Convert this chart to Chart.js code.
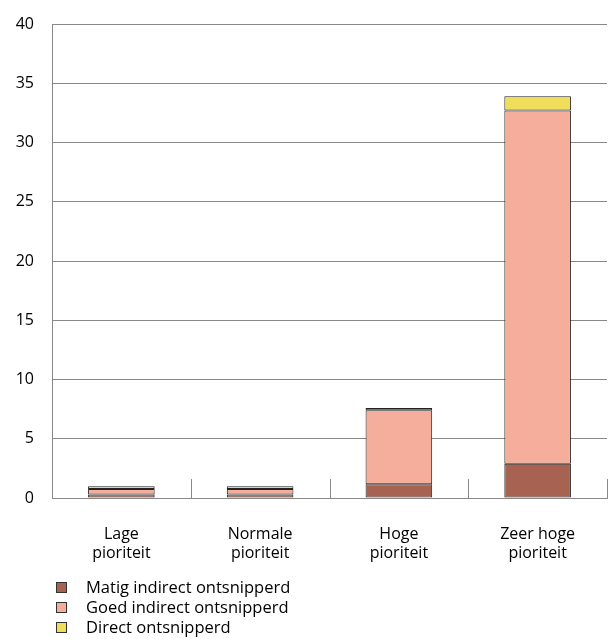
<!DOCTYPE html>
<html>
<head>
<meta charset="utf-8">
<script src="https://cdn.jsdelivr.net/npm/chart.js@4/dist/chart.umd.min.js"></script>
<style>
  body { margin: 0; background: #fff; }
  .wrap { position: relative; width: 613px; height: 639px; }
  #legend { position: absolute; left: 56px; top: 577px; font: 16.5px "Open Sans", sans-serif; color: #000; }
  #legend div { height: 20px; line-height: 20px; display: flex; align-items: center; }
  #legend span.box { width: 9px; height: 9px; border: 1px solid #333; margin-right: 19px; }
</style>
</head>
<body>
<div class="wrap">
  <canvas id="chart" width="613" height="639"></canvas>
  <div id="legend"></div>
</div>
<script>
// categories and series
const categories = [["Lage", "pioriteit"], ["Normale", "pioriteit"], ["Hoge", "pioriteit"], ["Zeer hoge", "pioriteit"]];
const matig = [0.3, 0.3, 1.15, 2.9];
const goed = [0.45, 0.45, 6.25, 29.8];
const direct = [0.25, 0.25, 0.2, 1.2];
const seriesNames = ["Matig indirect ontsnipperd", "Goed indirect ontsnipperd", "Direct ontsnipperd"];
const colors = ["#A86252", "#F4AE9B", "#F0DD5A"];
const yTicks = [0, 5, 10, 15, 20, 25, 30, 35, 40];

const FONT = "'Open Sans', sans-serif";

// short separator ticks between categories, pointing up from the axis
const sepTicks = {
    id: 'sepTicks',
    afterDatasetsDraw(chart) {
        const { ctx, chartArea } = chart;
        const x = chart.scales.x;
        ctx.save();
        ctx.strokeStyle = "#888";
        ctx.lineWidth = 1;
        for (let i = 1; i <= categories.length; i++) {
            let px;
            if (i < categories.length) {
                px = (x.getPixelForValue(i - 1) + x.getPixelForValue(i)) / 2;
            } else {
                px = chartArea.right;
            }
            px = Math.round(px) + 0.5;
            ctx.beginPath();
            ctx.moveTo(px, chartArea.bottom);
            ctx.lineTo(px, chartArea.bottom - 19);
            ctx.stroke();
        }
        ctx.restore();
    }
};

const data = [matig, goed, direct];

new Chart(document.getElementById("chart"), {
    type: "bar",
    data: {
        labels: categories,
        datasets: data.map((d, i) => ({
            label: seriesNames[i],
            data: d,
            backgroundColor: colors[i],
            borderColor: "#222",
            borderWidth: 1,
            borderSkipped: false,
            barPercentage: 0.48,
            categoryPercentage: 1
        }))
    },
    options: {
        responsive: false,
        animation: false,
        layout: { padding: { top: 0, right: 6, left: 0, bottom: 0 } },
        plugins: { legend: { display: false }, tooltip: { enabled: false } },
        scales: {
            x: {
                stacked: true,
                grid: { display: false },
                border: { display: true, color: "#888", width: 1 },
                ticks: { color: "#000", font: { family: FONT, size: 16 }, padding: 19, maxRotation: 0 },
                afterFit(scale) { scale.height = 141; }
            },
            y: {
                stacked: true,
                min: 0,
                max: 40,
                afterBuildTicks(scale) { scale.ticks = yTicks.map(v => ({ value: v })); },
                grid: { color: "#888", lineWidth: 1, drawTicks: false },
                border: { display: true, color: "#888", width: 1 },
                ticks: { color: "#000", font: { family: FONT, size: 16 }, padding: 18 },
                afterFit(scale) {
                    scale.width = 52;
                    scale.paddingTop = 24;
                    scale.paddingBottom = 0;
                }
            }
        }
    },
    plugins: [sepTicks]
});

// html legend
const legend = document.getElementById("legend");
seriesNames.forEach((name, i) => {
    legend.insertAdjacentHTML("beforeend",
        `<div><span class="box" style="background:${colors[i]}"></span>${name}</div>`);
});
</script>
</body>
</html>
